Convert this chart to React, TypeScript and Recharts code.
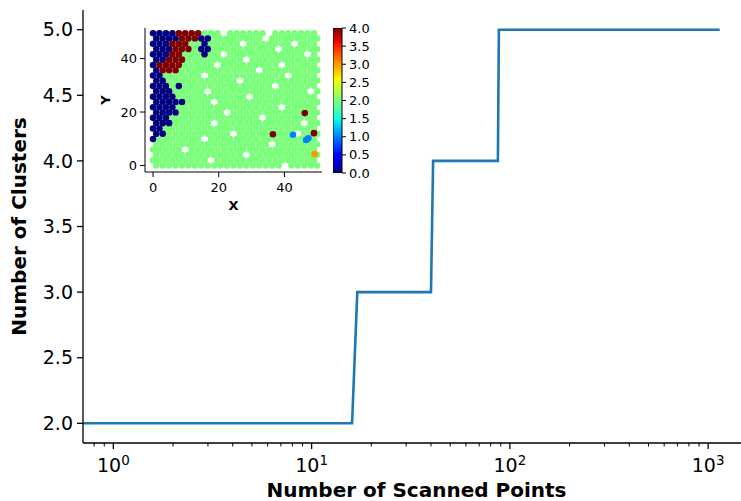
import React from 'react';
import { LineChart, Line, XAxis, YAxis, ScatterChart, Scatter, BarChart, Bar } from 'recharts';

const FONT = "'DejaVu Sans', sans-serif";

// Main step curve
const scannedPoints = [0.703, 16, 17, 40, 41, 87, 88, 1144];
const clusterCounts = [2, 2, 3, 3, 4, 4, 5, 5];
const mainXTicks = [
  0.8, 0.9, 1, 2, 3, 4, 5, 6, 7, 8, 9, 10, 20, 30, 40, 50, 60, 70, 80, 90,
  100, 200, 300, 400, 500, 600, 700, 800, 900, 1000,
];
const mainYTicks = [2, 2.5, 3, 3.5, 4, 4.5, 5];

// Inset scatter: cluster label map (b=0, c=1, g=2, o=3, r=4, '.'=gap)
const clusterMap = [
  'bbbbrrrrggg.gggggg.ggggggg',
  'bbbbrrrbbgggggggg.gggggggg',
  'bbbrrrggbggggg.ggggggg.ggg',
  'bbbrrrgbbgggggggggg.gggggg',
  'bbbrrgggbgg.gggggggggggg.g',
  'bbrrrggggggggg.ggggggggggg',
  'brrrrggggg.ggggggggg.ggggg',
  'brrrgggggggggggg.ggggggggg',
  'bbgggggg.gggggggggggg.gggg',
  'bbggggggggggg.gggggggggggg',
  'bbbgbgggggggggggggg.gggggg',
  'bbbggggg.ggggggggggggggg.g',
  'bbbbggggggggggg.gggggggggg',
  'bbbbbgggg.gggggggggggggggg',
  'bbbbgggggggggggggggg.ggggg',
  'bbbbggggggg.gggggggggggggg',
  'bbbgggggggggggggg.gggggggg',
  'bbbgggggg.ggggggggggggg.gg',
  'bbgggggggggggggggggggggggg',
  'bbgggggggggg.ggggggggg.ggg',
  'bggggggg.ggggggggggggggggg',
  'gggggggggggggggggg.ggggggg',
  'ggggg.gggggggggggggggggggg',
  'gggggggggggggg.ggggggggggg',
  'ggggggggg.gggggggggggggggg',
  'gggggggggggggggggggg.ggggg',
];
const mapXMax = 49;
const mapYMax = 49.5;
const specialX = [36.5, 46.2, 49, 42.6, 46.6, 47.3, 49.2];
const specialY = [11.7, 19.6, 12.1, 11.5, 9.5, 10.2, 4.3];
const specialLabel = ['r', 'r', 'r', 'c', 'c', 'c', 'o'];
const labelOrder = ['g', 'b', 'r', 'c', 'o'];
const labelColors: Record<string, string> = {
  b: '#000080',
  c: '#0080ff',
  g: '#7bff7b',
  o: '#ff9700',
  r: '#800000',
};
const insetTicks = [0, 20, 40];
const colorbarTicks = [0, 0.5, 1, 1.5, 2, 2.5, 3, 3.5, 4];
const colorbarMax = 4;

const jetStops: [number, string][] = [
  [0, '#000080'],
  [0.11, '#0000ff'],
  [0.125, '#0000ff'],
  [0.34, '#00dbff'],
  [0.35, '#00e5f8'],
  [0.375, '#14ffe3'],
  [0.64, '#f0ff08'],
  [0.65, '#f7f500'],
  [0.66, '#ffeb00'],
  [0.89, '#ff1400'],
  [0.91, '#e80000'],
  [1, '#800000'],
];

const mainData = scannedPoints.map((x, i) => ({ x, y: clusterCounts[i] }));

const nRows = clusterMap.length;
const nCols = clusterMap[0].length;
const scatterByLabel: Record<string, { x: number; y: number }[]> = {};
labelOrder.forEach((l) => (scatterByLabel[l] = []));
clusterMap.forEach((row, r) => {
  const y = mapYMax * (1 - r / (nRows - 1));
  const step = mapXMax / (nCols - 1);
  row.split('').forEach((ch, c) => {
    if (ch === '.') return;
    const x = c * step + (r % 2 === 1 ? step / 2 : 0);
    scatterByLabel[ch].push({ x, y });
  });
});
specialX.forEach((x, i) => {
  scatterByLabel[specialLabel[i]].push({ x, y: specialY[i] });
});

const MainXTick = (props: any) => {
  const { x, y, payload } = props;
  const v = payload.value;
  const lg = Math.log10(v);
  const exp = Math.round(lg);
  const major = Math.abs(lg - exp) < 1e-9;
  return (
    <g>
      <line
        x1={x}
        y1={y}
        x2={x}
        y2={y + (major ? 6 : 3.5)}
        stroke="#000"
        strokeWidth={major ? 1.3 : 1}
      />
      {major && (
        <text x={x} y={y + 29} textAnchor="middle" fontFamily={FONT} fontSize={19} fill="#000">
          10
          <tspan dy={-7} fontSize={13.5}>
            {exp}
          </tspan>
        </text>
      )}
    </g>
  );
};

const dotShape = (color: string) => (p: any) =>
  <circle cx={p.cx} cy={p.cy} r={3.3} fill={color} />;

export default function App() {
  return (
    <div
      style={{
        position: 'absolute',
        left: 0,
        top: 0,
        width: 741,
        height: 501,
        overflow: 'hidden',
        background: '#fff',
      }}
    >
      <div style={{ position: 'absolute', left: 0, top: 0 }}>
        <LineChart
          width={760}
          height={501}
          data={mainData}
          margin={{ top: 10, right: 10, left: 0, bottom: 0 }}
        >
          <XAxis
            dataKey="x"
            type="number"
            scale="log"
            domain={[0.703, 1626]}
            allowDataOverflow
            ticks={mainXTicks}
            interval={0}
            tickSize={0}
            tickMargin={0}
            tickLine={false}
            tick={<MainXTick />}
            height={58}
            axisLine={{ stroke: '#000', strokeWidth: 1.3 }}
            label={{
              value: 'Number of Scanned Points',
              position: 'center',
              dy: 18,
              style: { fontWeight: 'bold', fontSize: 20, fill: '#000', fontFamily: FONT },
            }}
          />
          <XAxis
            xAxisId="top"
            orientation="top"
            type="number"
            scale="log"
            domain={[0.703, 1626]}
            allowDataOverflow
            tick={false}
            tickLine={false}
            height={0}
            axisLine={{ stroke: '#000', strokeWidth: 1.3 }}
          />
          <YAxis
            type="number"
            domain={[1.85, 5.15]}
            allowDataOverflow
            ticks={mainYTicks}
            width={83}
            tickSize={6}
            tickMargin={4}
            tickFormatter={(v: number) => v.toFixed(1)}
            tick={{ fontSize: 19, fill: '#000', fontFamily: FONT }}
            tickLine={{ stroke: '#000', strokeWidth: 1.3 }}
            axisLine={{ stroke: '#000', strokeWidth: 1.3 }}
            label={{
              value: 'Number of Clusters',
              angle: -90,
              position: 'center',
              dx: -23,
              style: { fontWeight: 'bold', fontSize: 20, fill: '#000', fontFamily: FONT, textAnchor: 'middle' },
            }}
          />
          <Line
            dataKey="y"
            type="linear"
            stroke="#1f77b4"
            strokeWidth={2.6}
            dot={false}
            activeDot={false}
            isAnimationActive={false}
          />
        </LineChart>
      </div>

      <div style={{ position: 'absolute', left: 95, top: 10 }}>
        <ScatterChart width={235} height={210} margin={{ top: 18, right: 8, left: 0, bottom: 0 }}>
          <XAxis
            dataKey="x"
            type="number"
            domain={[-2.45, 51.45]}
            allowDataOverflow
            ticks={insetTicks}
            interval={0}
            height={48}
            tickSize={5}
            tickMargin={6}
            tick={{ fontSize: 13, fill: '#000', fontFamily: FONT }}
            tickLine={{ stroke: '#000' }}
            axisLine={{ stroke: '#000' }}
            label={{
              value: 'X',
              position: 'center',
              dy: 9,
              style: { fontWeight: 'bold', fontSize: 13, fill: '#000', fontFamily: FONT },
            }}
          />
          <XAxis
            xAxisId="t"
            orientation="top"
            type="number"
            domain={[-2.45, 51.45]}
            tick={false}
            tickLine={false}
            height={0}
            axisLine={{ stroke: '#000' }}
          />
          <YAxis
            dataKey="y"
            type="number"
            domain={[-2.45, 51.45]}
            allowDataOverflow
            ticks={insetTicks}
            interval={0}
            width={50}
            tickSize={5}
            tickMargin={3}
            tick={{ fontSize: 13, fill: '#000', fontFamily: FONT }}
            tickLine={{ stroke: '#000' }}
            axisLine={{ stroke: '#000' }}
            label={{
              value: 'Y',
              angle: -90,
              position: 'center',
              dx: -15,
              style: { fontWeight: 'bold', fontSize: 13, fill: '#000', fontFamily: FONT, textAnchor: 'middle' },
            }}
          />
          <YAxis
            yAxisId="r"
            orientation="right"
            type="number"
            domain={[-2.45, 51.45]}
            tick={false}
            tickLine={false}
            width={0}
            axisLine={{ stroke: '#000' }}
          />
          {labelOrder.map((l) => (
            <Scatter
              key={l}
              data={scatterByLabel[l]}
              fill={labelColors[l]}
              shape={dotShape(labelColors[l])}
              isAnimationActive={false}
            />
          ))}
        </ScatterChart>
      </div>

      <div style={{ position: 'absolute', left: 333, top: 18 }}>
        <BarChart
          width={50}
          height={165}
          data={[{ k: 'cb', v: colorbarMax }]}
          margin={{ top: 10, right: 0, left: 0, bottom: 10 }}
          barCategoryGap={0}
          barGap={0}
        >
          <defs>
            <linearGradient id="jetGrad" x1="0" y1="1" x2="0" y2="0">
              {jetStops.map(([o, c]) => (
                <stop key={o} offset={o} stopColor={c} />
              ))}
            </linearGradient>
          </defs>
          <XAxis dataKey="k" hide />
          <YAxis
            orientation="right"
            type="number"
            domain={[0, colorbarMax]}
            allowDataOverflow
            ticks={colorbarTicks}
            interval={0}
            width={41}
            tickSize={4}
            tickMargin={3}
            tickFormatter={(v: number) => v.toFixed(1)}
            tick={{ fontSize: 13, fill: '#000', fontFamily: FONT }}
            tickLine={{ stroke: '#000' }}
            axisLine={false}
          />
          <Bar dataKey="v" fill="url(#jetGrad)" stroke="#000" strokeWidth={1} isAnimationActive={false} />
        </BarChart>
      </div>
    </div>
  );
}
